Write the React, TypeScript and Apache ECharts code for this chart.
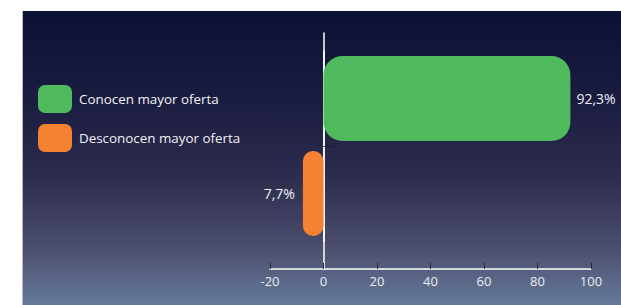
import React, { useEffect, useRef } from "react";
import * as echarts from "echarts";

const categories = ["Conocen mayor oferta", "Desconocen mayor oferta"];
const seriesNames = ["Conocen mayor oferta", "Desconocen mayor oferta"];
const knowValues: (number | null)[] = [92.3, null];
const unknownValues: (number | null)[] = [null, -7.7];
const labelTexts = ["92,3%", "7,7%"];
const xTicks = { min: -20, max: 100, interval: 20 };

export default function App() {
  const ref = useRef<HTMLDivElement>(null);
  useEffect(() => {
    if (!ref.current) return;
    const chart = echarts.init(ref.current, undefined, { renderer: "svg" });
    const font = "'Open Sans', 'Noto Sans', sans-serif";
    chart.setOption({
      animation: false,
      textStyle: { fontFamily: font },
      legend: {
        orient: "vertical",
        left: 10,
        top: 69,
        itemWidth: 34,
        itemHeight: 28,
        itemGap: 11,
        icon: "roundRect",
        data: seriesNames,
        textStyle: { color: "#f2f2f5", fontSize: 13.4, fontFamily: font, padding: [0, 0, 0, 2] },
      },
      grid: [
        { left: 247, right: 30, top: 40, bottom: 64 },
        { left: 247, right: 30, top: 22, bottom: 36 },
      ],
      xAxis: [
        {
          gridIndex: 0,
          type: "value",
          min: xTicks.min,
          max: xTicks.max,
          interval: xTicks.interval,
          show: false,
        },
        {
          gridIndex: 1,
          type: "value",
          min: xTicks.min,
          max: xTicks.max,
          interval: xTicks.interval,
          axisLine: { show: true, onZero: false, lineStyle: { color: "#ffffff", width: 1.5 } },
          axisTick: { show: true, inside: true, length: 6, lineStyle: { color: "#2a2a2e", width: 1 } },
          axisLabel: { color: "#eceef4", fontSize: 13, margin: 5, fontFamily: font },
          splitLine: { show: false },
        },
      ],
      yAxis: [
        {
          gridIndex: 0,
          type: "category",
          data: categories,
          inverse: true,
          show: false,
          axisLine: { onZero: false },
        },
        {
          gridIndex: 1,
          type: "value",
          min: 0,
          max: 1,
          axisLine: { show: true, onZero: true, lineStyle: { color: "#ffffff", width: 1.5 } },
          axisTick: { show: false },
          axisLabel: { show: false },
          splitLine: { show: false },
        },
        {
          gridIndex: 0,
          type: "value",
          position: "left",
          min: 0,
          max: 2,
          interval: 1,
          axisLine: { show: true, onZero: true, lineStyle: { color: "#ffffff", width: 1.5 } },
          axisTick: {
            show: true,
            inside: true,
            length: 9,
            customValues: [1],
            lineStyle: { color: "#1c1c22", width: 1 },
          },
          axisLabel: { show: false },
          splitLine: { show: false },
        },
      ],
      series: [
        {
          name: seriesNames[0],
          type: "bar",
          xAxisIndex: 0,
          yAxisIndex: 0,
          stack: "total",
          barWidth: 85,
          data: knowValues,
          itemStyle: { color: "#50ba5e", borderRadius: 19 },
          label: {
            show: true,
            position: "right",
            distance: 6,
            color: "#eceef4",
            fontSize: 14,
            fontFamily: font,
            formatter: () => labelTexts[0],
          },
        },
        {
          name: seriesNames[1],
          type: "bar",
          xAxisIndex: 0,
          yAxisIndex: 0,
          stack: "total",
          barWidth: 85,
          data: unknownValues,
          itemStyle: { color: "#f58232", borderRadius: 10 },
          label: {
            show: true,
            position: "left",
            distance: 8,
            color: "#eceef4",
            fontSize: 14,
            fontFamily: font,
            formatter: () => labelTexts[1],
          },
        },
      ],
    });
    return () => chart.dispose();
  }, []);
  return (
    <div
      style={{
        position: "fixed",
        left: 22,
        top: 11,
        width: 599,
        height: 294,
        boxSizing: "border-box",
        borderLeft: "1px solid #b4b8c4",
        background:
          "linear-gradient(to bottom, #0b1134 0%, #1a1c40 30%, #2b2b4c 55%, #4b4d6c 80%, #667a9b 100%)",
      }}
    >
      <div ref={ref} style={{ width: 598, height: 294 }} />
    </div>
  );
}
